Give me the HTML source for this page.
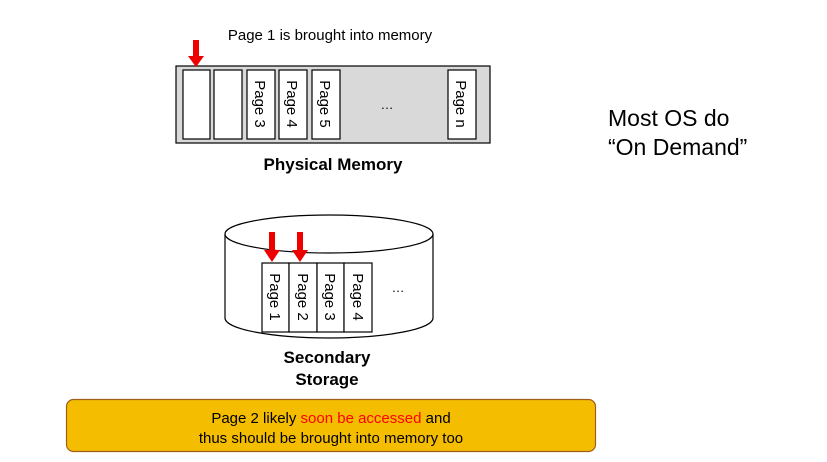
<!DOCTYPE html>
<html><head><meta charset="utf-8"><style>
body{margin:0;background:#fff;width:827px;height:462px;overflow:hidden}
svg{display:block;font-family:"Liberation Sans","Noto Sans CJK KR",sans-serif}
</style></head><body>
<svg width="827" height="462" viewBox="0 0 827 462">
<text x="330" y="40" font-size="15" text-anchor="middle" fill="#000">Page 1 is brought into memory</text>
<rect x="176" y="66" width="314" height="77" fill="#d9d9d9" stroke="#000" stroke-width="1.2"/>
<g fill="#fff" stroke="#000" stroke-width="1.2">
<rect x="183" y="70" width="27" height="69"/>
<rect x="214" y="70" width="28" height="69"/>
<rect x="247" y="70" width="28" height="69"/>
<rect x="279" y="70" width="28" height="69"/>
<rect x="312" y="70" width="28" height="69"/>
<rect x="448" y="70" width="28" height="69"/>
</g>
<g font-size="15" fill="#000">
<text transform="translate(255,104) rotate(90)" text-anchor="middle">Page 3</text>
<text transform="translate(287,104) rotate(90)" text-anchor="middle">Page 4</text>
<text transform="translate(320,104) rotate(90)" text-anchor="middle">Page 5</text>
<text transform="translate(456,104) rotate(90)" text-anchor="middle">Page n</text>
</g>
<text x="387" y="109" font-size="13" text-anchor="middle">…</text>
<rect x="193" y="40" width="6" height="17" fill="#e00"/>
<polygon points="188,56 204,56 196,67" fill="#e00"/>
<text x="333" y="170" font-size="17" font-weight="bold" text-anchor="middle">Physical Memory</text>

<path d="M225,234 L225,318 A104,20 0 0 0 433,318 L433,234" fill="#fff" stroke="#000" stroke-width="1.2"/>
<ellipse cx="329" cy="234" rx="104" ry="19" fill="#fff" stroke="#000" stroke-width="1.2"/>
<g fill="#fff" stroke="#000" stroke-width="1.2">
<rect x="262" y="263" width="27" height="69"/>
<rect x="289" y="263" width="28" height="69"/>
<rect x="317" y="263" width="27" height="69"/>
<rect x="344" y="263" width="28" height="69"/>
</g>
<g font-size="15" fill="#000">
<text transform="translate(270,297) rotate(90)" text-anchor="middle">Page 1</text>
<text transform="translate(298,297) rotate(90)" text-anchor="middle">Page 2</text>
<text transform="translate(325,297) rotate(90)" text-anchor="middle">Page 3</text>
<text transform="translate(353,297) rotate(90)" text-anchor="middle">Page 4</text>
</g>
<text x="398" y="292" font-size="13" text-anchor="middle">…</text>
<rect x="269" y="232" width="6" height="19" fill="#e00"/>
<polygon points="264,250 280,250 272,262" fill="#e00"/>
<rect x="297" y="232" width="6" height="19" fill="#e00"/>
<polygon points="292,250 308,250 300,262" fill="#e00"/>
<text x="327" y="363" font-size="17" font-weight="bold" text-anchor="middle">Secondary</text>
<text x="327" y="385" font-size="17" font-weight="bold" text-anchor="middle">Storage</text>

<text x="608" y="126" font-size="23" fill="#000">Most OS do</text>
<text x="608" y="155" font-size="23" fill="#000">“On Demand”</text>

<rect x="66.5" y="399.5" width="529" height="52" rx="7" fill="#f5bd00" stroke="#a0601a" stroke-width="1.2"/>
<text x="331" y="423" font-size="15" text-anchor="middle">Page 2 likely <tspan fill="#ff0000">soon be accessed</tspan> and</text>
<text x="331" y="443" font-size="15" text-anchor="middle">thus should be brought into memory too</text>
</svg>
</body></html>
